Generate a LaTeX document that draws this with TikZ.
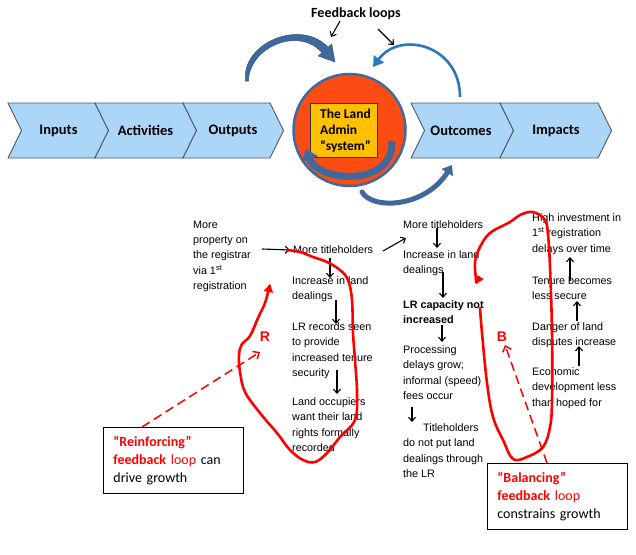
\documentclass[tikz,border=0pt]{standalone}
\usepackage{fontspec}
\setmainfont{Liberation Sans}
\newfontfamily\calib{Carlito}
\usetikzlibrary{arrows.meta,calc}
\definecolor{chevfill}{HTML}{ABD6F7}
\definecolor{chevline}{HTML}{4A5A6C}
\definecolor{thickblue}{HTML}{40689D}
\definecolor{thinblue}{HTML}{2A78C2}
\definecolor{circfill}{HTML}{FC4C14}
\definecolor{circline}{HTML}{41699C}
\definecolor{boxfill}{HTML}{FFC000}
\definecolor{loopred}{HTML}{FF0000}
\tikzset{
  chev/.style={draw=chevline, line width=0.9pt, fill=chevfill, line join=miter},
  chevtext/.style={font=\calib\bfseries\fontsize{14.5}{16}\selectfont, inner sep=0pt},
  txt/.style={anchor=north west, inner sep=0pt, align=left, font=\fontsize{10.8}{15.4}\selectfont},
  blk/.style={-{Straight Barb[length=4pt,width=7pt]}, line width=1.1pt, black},
  loopline/.style={loopred, line width=2.6pt, line cap=round, line join=round},
  redtip/.style={-{Triangle[width=9pt,length=8pt]}},
  dashedarrow/.style={loopred, line width=1.5pt, dash pattern=on 9pt off 5pt, -{Straight Barb[length=5pt,width=9pt]}},
  fbox/.style={draw=black, line width=0.8pt, fill=white, minimum width=140pt, minimum height=66pt,
    text width=120pt, inner xsep=10pt, inner ysep=0pt, align=left, anchor=north west,
    font=\calib\fontsize{14}{18}\selectfont},
  redlbl/.style={loopred, font=\bfseries\fontsize{14}{16}\selectfont, inner sep=0pt}
}
\begin{document}
\begin{tikzpicture}[x=1pt,y=-1pt]
\useasboundingbox (0,0) rectangle (636,554);
\fill[white] (0,0) rectangle (636,554);

% chevrons
\draw[chev] (8,103) -- (95,103) -- (108.5,130.5) -- (95,158) -- (8,158) -- (21.5,130.5) -- cycle;
\draw[chev] (95,103) -- (183,103) -- (196.5,130.5) -- (183,158) -- (95,158) -- (108.5,130.5) -- cycle;
\draw[chev] (183,103) -- (270,103) -- (283.5,130.5) -- (270,158) -- (183,158) -- (196.5,130.5) -- cycle;
\draw[chev] (411,103) -- (500,103) -- (513.5,130.5) -- (500,158) -- (411,158) -- (424.5,130.5) -- cycle;
\draw[chev] (500,103) -- (598,103) -- (611.5,130.5) -- (598,158) -- (500,158) -- (513.5,130.5) -- cycle;
\node[chevtext] (inputs) at (58.5,130.5) {Inputs};
\node[chevtext] (activities) at (145.5,130.5) {Activities};
\node[chevtext] (outputs) at (233,130.5) {Outputs};
\node[chevtext] (outcomes) at (461,130.5) {Outcomes};
\node[chevtext] (impacts) at (556,130.5) {Impacts};

% central system
\node[draw=circline, line width=2.5pt, fill=circfill, circle, minimum size=112pt, inner sep=0pt] (sys) at (349.5,130) {};
\node[draw=black!80, line width=0.6pt, fill=boxfill, minimum width=67pt, minimum height=54pt, inner sep=0pt] (sysbox) at (343.5,130) {};
\node[anchor=west, inner sep=0pt, align=left, font=\calib\bfseries\fontsize{13.5}{16}\selectfont] (systext) at (320,131) {The Land\\Admin\\“system”};

% inner curved arrow
\draw[thickblue, line width=7pt, -{Triangle[width=17pt,length=11pt]}] (392,141) .. controls (394,188) and (318,182) .. (306,149);

% feedback label and arrows
\node[font=\calib\bfseries\fontsize{14}{16}\selectfont, inner sep=0pt] (fb) at (356,14) {Feedback loops};
\coordinate (fbl1) at (340,21); \coordinate (fbl2) at (331,37);
\coordinate (fbr1) at (378,29); \coordinate (fbr2) at (394,45);
\draw[blk] (fbl1) -- (fbl2);
\draw[blk] (fbr1) -- (fbr2);

% top-left thick tapered arrow
\fill[thickblue, draw=thickblue!80!black, line width=0.5pt]
  (245.5,81) .. controls (241,43) and (301,18) .. (328,47.3)
  -- (331.75,44) -- (335,62) -- (318.25,56) -- (322,52.7)
  .. controls (299,26) and (249,47) .. (248.5,81) -- cycle;

% top-right thin blue arrow
\draw[thinblue, line width=2.6pt, -{Triangle[width=12pt,length=10pt]}] (460,97) .. controls (460,45) and (400,30) .. (373,67);

% bottom arrow
\draw[thickblue, line width=5pt, line cap=round, -{Triangle[width=13pt,length=9pt]}] (362,192) .. controls (372,210) and (425,208) .. (452,165);

% left column text
\node[txt] (l1) at (193,220.5) {More\\property on\\the registrar\\via 1\textsuperscript{st}\\registration};
\node[txt] (l2) at (293,245.5) {More titleholders};
\node[txt] (l3) at (292,276.5) {Increase in land\\dealings};
\node[txt] (l4) at (292,322.5) {LR records seen\\to provide\\increased tenure\\security};
\node[txt] (l5) at (292,397.5) {Land occupiers\\want their land\\rights formally\\recorded};

% middle column text
\node[txt] (m1) at (403,220.5) {More titleholders};
\node[txt] (m2) at (403,250.5) {Increase in land\\dealings};
\node[txt, font=\bfseries\fontsize{10.8}{14.5}\selectfont] (m3) at (403,300.5) {LR capacity not\\increased};
\node[txt] (m4) at (403,345.5) {Processing\\delays grow;\\informal (speed)\\fees occur};
\node[txt] (m5) at (403,423.5) {\hspace*{20pt}Titleholders\\do not put land\\dealings through\\the LR};

% right column text
\node[txt] (r1) at (532,213.5) {High investment in\\1\textsuperscript{st} registration\\delays over time};
\node[txt] (r2) at (532,276.5) {Tenure becomes\\less secure};
\node[txt] (r3) at (532,322.5) {Danger of land\\disputes increase};
\node[txt] (r4) at (532,367.5) {Economic\\development less\\than hoped for};

% black arrows
\coordinate (a1s) at (262,249); \coordinate (a1e) at (290,250);
\coordinate (a2s) at (330,258); \coordinate (a2e) at (330,278);
\coordinate (a3s) at (336,300); \coordinate (a3e) at (336,324);
\coordinate (a4s) at (337,370); \coordinate (a4e) at (337,394);
\coordinate (b0s) at (383,251); \coordinate (b0e) at (406,238);
\coordinate (b1s) at (437,228); \coordinate (b1e) at (437,248);
\coordinate (b2s) at (443,272); \coordinate (b2e) at (443,298);
\coordinate (b3s) at (442,325); \coordinate (b3e) at (442,342);
\coordinate (b4s) at (412,407); \coordinate (b4e) at (412,422);
\coordinate (c1s) at (570,281); \coordinate (c1e) at (570,257);
\coordinate (c2s) at (577,321); \coordinate (c2e) at (577,301);
\coordinate (c3s) at (579,366); \coordinate (c3e) at (579,346);
\foreach \p in {a1,a2,a3,a4,b0,b1,b2,b3,b4,c1,c2,c3} \draw[blk] (\p s) -- (\p e);

% reinforcing loop
\draw[loopline, redtip] plot[smooth, tension=0.6] coordinates {
  (287,250) (300,252) (313,257) (327,262) (340,270) (348,280) (352,300) (353,333) (355,360)
  (357,393) (355,420) (340,437) (327,453) (315,462) (303,460) (290,450) (277,433) (260,413)
  (245,392) (240,372) (239,355) (242,344) (250,336) (258,318) (265,303) (269,288) (270,284)};
\node[redlbl] (rl) at (265,337) {R};

% balancing loop
\draw[loopline, redtip] plot[smooth, tension=0.6] coordinates {
  (480,308) (482,333) (487,383) (493,417) (503,440) (513,459) (527,457) (543,447) (550,427)
  (552,400) (552,333) (550,267) (548,235) (545,220) (533,212) (520,215) (510,222) (490,233)
  (480,247) (475,262) (476,280) (476,284)};
\node[redlbl] (bl) at (502,337) {B};

% explanation boxes
\node[fbox] (rbox) at (103,427) {{\color{loopred}\bfseries “Reinforcing”}\\{\color{loopred}\bfseries feedback} {\color{loopred}loop} can\\drive growth};
\node[fbox] (bbox) at (487,463) {{\color{loopred}\bfseries “Balancing”}\\{\color{loopred}\bfseries feedback} {\color{loopred}loop}\\constrains growth};

\coordinate (rtarget) at (260,352);
\coordinate (btarget) at (505,345);
\draw[dashedarrow] ($(rbox.north west)+(39,0)$) -- (rtarget);
\draw[dashedarrow] ($(bbox.north west)+(60,0)$) -- (btarget);
\end{tikzpicture}
\end{document}
